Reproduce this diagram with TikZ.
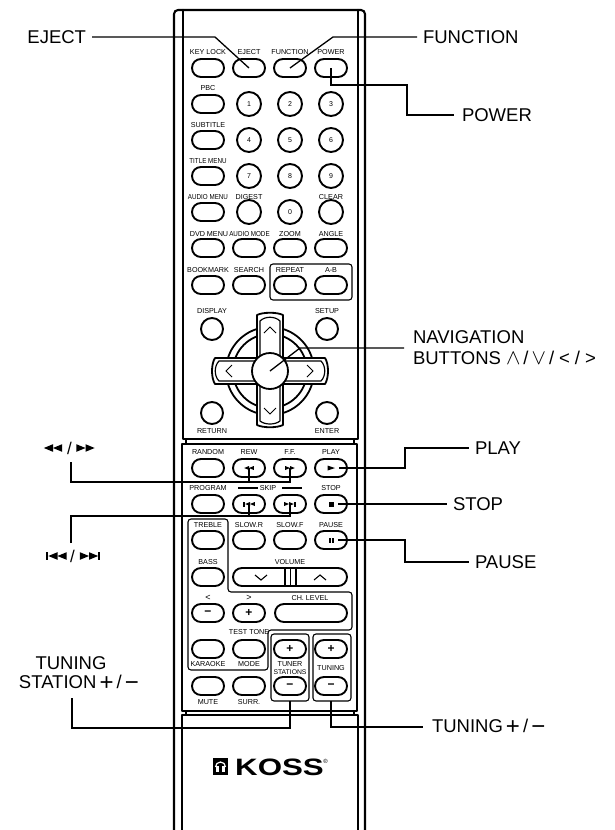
\documentclass[tikz,border=0pt]{standalone}
\usepackage{fontspec}
\setmainfont{Liberation Sans}
\newfontfamily\narrowf[FakeStretch=0.87]{Liberation Sans}
\newfontfamily\logof[FakeStretch=1.32]{Liberation Sans Bold}
\newcommand{\bigplus}{\raisebox{-1.6pt}{\fontsize{24}{24}\selectfont +}}
\newcommand{\bigminus}{\raisebox{-1.6pt}{\fontsize{24}{24}\selectfont −}}
\newcommand{\navup}{\scalebox{1.25}{$\wedge$}}
\newcommand{\navdown}{\scalebox{1.25}{$\vee$}}
\tikzset{
  x=1pt,y=-1pt,
  body/.style={line width=2.1pt,line cap=round,line join=round},
  thinbody/.style={line width=1.2pt},
  group/.style={line width=1.1pt,rounded corners=3pt},
  leader/.style={line width=1.3pt},
  wbtn/.style={draw,line width=1.9pt,rectangle,rounded corners=8.9pt,minimum width=32pt,minimum height=18pt,inner sep=0pt,outer sep=0pt,font=\fontsize{12}{12}\selectfont\bfseries},
  rbtn/.style={draw,line width=1.9pt,circle,minimum size=24pt,inner sep=0pt,outer sep=0pt,font=\fontsize{7}{7}\selectfont},
  sbtn/.style={draw,line width=1.9pt,circle,minimum size=22pt,inner sep=0pt,outer sep=0pt},
  small/.style={inner sep=0pt,font=\fontsize{7.2}{8}\selectfont},
  nsmall/.style={inner sep=0pt,font=\fontsize{7.2}{8}\selectfont\narrowf},
  lbl/.style={inner sep=0pt,outer sep=6pt,anchor=west,text height=13.3pt,text depth=0pt,font=\fontsize{18.5}{21}\selectfont},
  chev/.style={line width=0.9pt,line join=miter},
  pics/rw/.style={code={\fill (0,-#1)--(0,#1)--(-#1*2.4,0)--cycle;\fill (#1*2.4,-#1)--(#1*2.4,#1)--(0,0)--cycle;}},
  pics/ff/.style={code={\fill (0,-#1)--(0,#1)--(#1*2.4,0)--cycle;\fill (-#1*2.4,-#1)--(-#1*2.4,#1)--(0,0)--cycle;}},
}
\begin{document}
\begin{tikzpicture}
\useasboundingbox (0,0) rectangle (615,830);
\fill[white] (0,0) rectangle (615,830);
% case
\draw[body,rounded corners=4pt] (174,830) -- (174,10) -- (365,10) -- (365,830);
\draw[body] (183,10) -- (183,439) -- (358,439) -- (358,10);
\draw[body] (182,444) rectangle (357,711);
\draw[body] (182,830) -- (182,715) -- (358,715) -- (358,830);
\draw[thinbody] (186,439)--(186,444) (354,439)--(354,444) (186,711)--(186,715) (354,711)--(354,715);
% group frames
\draw[group] (270,264) rectangle (352,300);
\draw[group] (188,519) -- (228,519) -- (228,592) -- (352,592) -- (352,630) -- (268,630) -- (268,670) -- (188,670) -- cycle;
\draw[group] (271,634) rectangle (309,701);
\draw[group] (313,634) rectangle (351,701);
% row 1
\node[small] (tKey) at (208,52) {KEY LOCK};
\node[small] (tEject) at (249,52) {EJECT};
\node[small] (tFunc) at (290,52) {FUNCTION};
\node[small] (tPower) at (331,52) {POWER};
\node[wbtn] (keylock) at (208,68) {};
\node[wbtn] (eject) at (249,68) {};
\node[wbtn] (func) at (290,68) {};
\node[wbtn] (power) at (331,68) {};
% row 2
\node[small] (tPbc) at (208,88) {PBC};
\node[wbtn] (pbc) at (208,104) {};
\node[rbtn] (n1) at (249,104) {1};
\node[rbtn] (n2) at (290,104) {2};
\node[rbtn] (n3) at (331,104) {3};
% row 3
\node[small] (tSub) at (208,125) {SUBTITLE};
\node[wbtn] (sub) at (208,140) {};
\node[rbtn] (n4) at (249,140) {4};
\node[rbtn] (n5) at (290,140) {5};
\node[rbtn] (n6) at (331,140) {6};
% row 4
\node[nsmall] (tTitle) at (208,161) {TITLE MENU};
\node[wbtn] (title) at (208,176) {};
\node[rbtn] (n7) at (249,176) {7};
\node[rbtn] (n8) at (290,176) {8};
\node[rbtn] (n9) at (331,176) {9};
% row 5
\node[nsmall] (tAudio) at (208,197) {AUDIO MENU};
\node[small] (tDigest) at (249,197) {DIGEST};
\node[small] (tClear) at (331,197) {CLEAR};
\node[wbtn] (audio) at (208,212) {};
\node[rbtn] (digest) at (249,212) {};
\node[rbtn] (n0) at (290,212) {0};
\node[rbtn] (clear) at (331,212) {};
% row 6
\node[small] (tDvd) at (209,234) {DVD MENU};
\node[nsmall] (tAmode) at (249.5,234) {AUDIO MODE};
\node[small] (tZoom) at (290,234) {ZOOM};
\node[small] (tAngle) at (331,234) {ANGLE};
\node[wbtn] (dvd) at (208,248) {};
\node[wbtn] (amode) at (249,248) {};
\node[wbtn] (zoom) at (290,248) {};
\node[wbtn] (angle) at (331,248) {};
% row 7
\node[small] (tBook) at (208,270) {BOOKMARK};
\node[small] (tSearch) at (249,270) {SEARCH};
\node[small] (tRepeat) at (290,270) {REPEAT};
\node[small] (tAb) at (331,270) {A-B};
\node[wbtn] (book) at (208,285) {};
\node[wbtn] (search) at (249,285) {};
\node[wbtn] (repeat) at (290,285) {};
\node[wbtn] (ab) at (331,285) {};
% corners
\node[small] (tDisplay) at (212,311) {DISPLAY};
\node[small] (tSetup) at (327,311) {SETUP};
\node[sbtn] (display) at (212,329) {};
\node[sbtn] (setup) at (327,329) {};
\node[sbtn] (return) at (212,413) {};
\node[sbtn] (enter) at (327,413) {};
\node[small] (tReturn) at (212,431) {RETURN};
\node[small] (tEnter) at (327,431) {ENTER};
% navigation
\draw[line width=1.8pt,fill=white] (270,371) circle[radius=44];
\draw[line width=1.8pt,fill=white] (270,371) circle[radius=37];
\draw[line width=1.8pt,fill=white,line join=round] (257,358) -- (257,315) .. controls (263,312) and (277,312) .. (283,315) -- (283,358) -- (325,358) .. controls (329,364) and (329,378) .. (325,384) -- (283,384) -- (283,425) .. controls (277,428) and (263,428) .. (257,425) -- (257,384) -- (215,384) .. controls (211,378) and (211,364) .. (215,358) -- cycle;
\draw[line width=1.2pt,fill=white,line join=round] (260,361) -- (260,321) .. controls (265,316) and (275,316) .. (280,321) -- (280,361) -- (321,361) .. controls (326,366) and (326,376) .. (321,381) -- (280,381) -- (280,421) .. controls (275,425) and (265,425) .. (260,421) -- (260,381) -- (219,381) .. controls (214,376) and (214,366) .. (219,361) -- cycle;
\node[draw,line width=1.8pt,fill=white,circle,minimum size=36pt,inner sep=0pt] (nav) at (270,371) {};
\draw[chev] (264,333) -- (270,327) -- (276,333);
\draw[chev] (264,408) -- (270,414) -- (276,408);
\draw[chev] (232,365) -- (226,371) -- (232,377);
\draw[chev] (307,365) -- (313,371) -- (307,377);
% lower panel, row 1
\node[small] (tRandom) at (208,452) {RANDOM};
\node[small] (tRew) at (249,452) {REW};
\node[small] (tFf) at (290,452) {F.F.};
\node[small] (tPlay) at (331,452) {PLAY};
\node[wbtn] (random) at (208,468) {};
\node[wbtn] (rew) at (249,468) {};
\node[wbtn] (ff) at (290,468) {};
\node[wbtn] (play) at (331,468) {};
\pic at (249,468) {rw=2};
\pic at (290,468) {ff=2};
\fill (327.5,465.5) -- (327.5,470.5) -- (335,468) -- cycle;
% row 2
\node[small] (tProgram) at (208,488) {PROGRAM};
\node[small] (tSkip) at (268,488) {SKIP};
\draw[line width=1.2pt] (238,488) -- (258,488) (282,488) -- (302,488);
\node[small] (tStop) at (331,488) {STOP};
\node[wbtn] (program) at (208,504) {};
\node[wbtn] (prev) at (249,504) {};
\node[wbtn] (next) at (290,504) {};
\node[wbtn] (stop) at (331,504) {};
\pic at (250,504) {rw=2};
\fill (243.4,501.5) rectangle (244.8,506.5);
\pic at (289,504) {ff=2};
\fill (294.2,501.5) rectangle (295.6,506.5);
\fill (328.5,501.5) rectangle (333.5,506.5);
% row 3
\node[small] (tTreble) at (208,525) {TREBLE};
\node[small] (tSlowR) at (249,525) {SLOW.R};
\node[small] (tSlowF) at (290,525) {SLOW.F};
\node[small] (tPause) at (331,525) {PAUSE};
\node[wbtn] (treble) at (208,540) {};
\node[wbtn] (slowr) at (249,540) {};
\node[wbtn] (slowf) at (290,540) {};
\node[wbtn] (pause) at (331,540) {};
\fill (328.8,537.5) rectangle (330.6,542.5);
\fill (331.8,537.5) rectangle (333.6,542.5);
% row 4
\node[small] (tBass) at (208,562) {BASS};
\node[small] (tVolume) at (290,562) {VOLUME};
\node[wbtn] (bass) at (208,577) {};
\node[wbtn,minimum width=114pt] (volume) at (290,577) {};
\draw[line width=1.5pt] (285,568) -- (285,586) (290.5,568) -- (290.5,586) (296,568) -- (296,586);
\draw[chev,line width=1.1pt] (255,575) -- (261,580) -- (267,575);
\draw[chev,line width=1.1pt] (314,580) -- (320,575) -- (326,580);
% row 5
\node[small,font=\fontsize{9}{9}\selectfont] (tLess) at (208,598) {<};
\node[small,font=\fontsize{9}{9}\selectfont] (tMore) at (249,598) {>};
\node[small] (tCh) at (310,598) {CH. LEVEL};
\node[wbtn] (minus) at (208,613) {−};
\node[wbtn] (plus) at (249,613) {+};
\node[wbtn,minimum width=72pt] (chlevel) at (311,613) {};
% row 6
\node[small] (tTest) at (249,632) {TEST TONE};
\node[wbtn] (karaoke) at (208,649) {};
\node[wbtn] (mode) at (249,649) {};
\node[wbtn] (stplus) at (290,649) {+};
\node[wbtn] (tunplus) at (331,649) {+};
\node[small] (tKaraoke) at (208,664) {KARAOKE};
\node[small] (tMode) at (249,664) {MODE};
\node[small] (tTuner) at (290,664) {TUNER};
\node[small,font=\fontsize{6.8}{8}\selectfont] (tStations) at (290,672) {STATIONS};
\node[small] (tTuning) at (331,668) {TUNING};
% row 7
\node[wbtn] (mute) at (208,686) {};
\node[wbtn] (surr) at (249,686) {};
\node[wbtn] (stminus) at (290,686) {−};
\node[wbtn] (tunminus) at (331,686) {−};
\node[small] (tMute) at (208,702) {MUTE};
\node[small] (tSurr) at (249,702) {SURR.};
% logo
\fill (213,758) rectangle (228,775);
\draw[white,line width=1.2pt] (215.5,767) arc[start angle=180,end angle=360,radius=5];
\fill[white] (216,766) rectangle (219,772);
\fill[white] (222,766) rectangle (225,772);
\node[inner sep=0pt,anchor=west,text height=17pt,text depth=0pt,font=\fontsize{23.7}{24}\selectfont\logof] (logo) at (235,766.5) {KOSS};
\node[inner sep=0pt,font=\fontsize{6}{6}\selectfont] (reg) at (325.5,761.5) {®};
% outer labels
\node[lbl,anchor=east] (lEject) at (92,37) {EJECT};
\node[lbl] (lFunc) at (417,37) {FUNCTION};
\node[lbl,outer sep=8pt] (lPower) at (454,115) {POWER};
\node[lbl,align=left,text height=,text depth=,outer sep=9pt] (lNav) at (404,348) {NAVIGATION\\BUTTONS\hspace{5pt}\navup\hspace{3pt}/\hspace{3pt}\navdown\hspace{3pt}/\hspace{5pt}<\hspace{5pt}/\hspace{5pt}>};
\node[lbl] (lPlay) at (469,448) {PLAY};
\node[lbl] (lStop) at (447,504) {STOP};
\node[lbl] (lPause) at (469,562) {PAUSE};
\node[lbl,text height=,text depth=,outer sep=9pt] (lTuning) at (423,727) {TUNING\,\bigplus\,/\,\bigminus};
\node[lbl,anchor=center,outer sep=0pt] (lTs1) at (71,663) {TUNING};
\node[lbl,anchor=west,outer sep=0pt,text height=,text depth=] (lTs2) at (19,683) {STATION\,\bigplus\,/\,\bigminus};
\node[inner sep=0pt,font=\fontsize{17}{17}\selectfont] (lRew) at (69.5,448) {/};
\pic at (53,448) {rw=3.8};
\pic at (85.5,448) {ff=3.8};
\node[inner sep=0pt,font=\fontsize{17}{17}\selectfont] (lSkip) at (72.5,556) {/};
\pic at (57.5,556) {rw=3.8};
\fill (46,552) rectangle (47.6,560);
\pic at (89,556) {ff=3.8};
\fill (98.4,552) rectangle (100,560);
% free ends and bends
\coordinate (bEject) at (215,37);
\coordinate (bFunc) at (333,37);
\coordinate (bPower) at (407,85);
\coordinate (bNav) at (300,348);
\coordinate (bPlay) at (405,468);
\coordinate (bPause) at (405,540);
\coordinate (eRew) at (71,462);
\coordinate (eSkip) at (71,543);
\coordinate (eTs) at (72,698);
% leaders
\draw[leader] (lEject.east) -- (bEject) -- (eject.center);
\draw[leader] (func.center) -- (bFunc) -- (lFunc.west);
\draw[leader] (power.center) |- (bPower) |- (lPower.west);
\draw[leader] (nav.center) -- (bNav) -- (lNav.west);
\draw[leader] (play.center) ++(8,0) -- (bPlay) |- (lPlay.west);
\draw[leader] (stop.center) ++(7,0) -- (lStop.west);
\draw[leader] (pause.center) ++(7,0) -- (bPause) |- (lPause.west);
\draw[leader] (eRew) |- (ff.center |- 0,482) -- (ff.center);
\draw[leader] (rew.center) -- (rew.center |- 0,482);
\draw[leader] (eSkip) |- (next.center |- 0,516) -- (next.center);
\draw[leader] (prev.center) -- (prev.center |- 0,516);
\draw[leader] (eTs) |- (stminus.south |- 0,728) -- (stminus.south |- 0,701);
\draw[leader] (tunminus.south |- 0,701) |- (lTuning.west);
\end{tikzpicture}
\end{document}
